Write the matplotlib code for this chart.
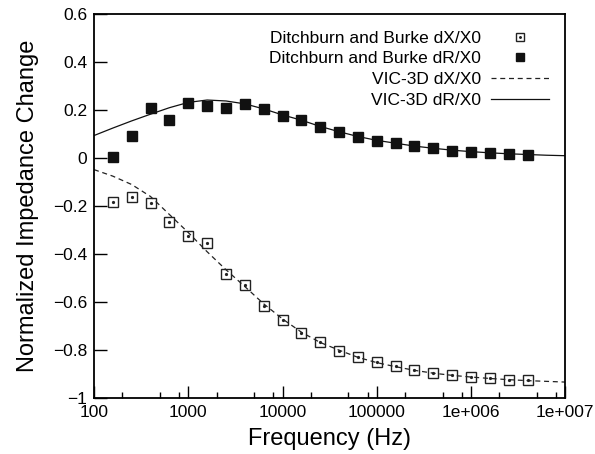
import matplotlib
matplotlib.use("Agg")
import matplotlib.pyplot as plt
from matplotlib.ticker import FixedLocator, FuncFormatter, LogLocator, NullFormatter
from matplotlib.legend_handler import HandlerTuple

plt.rcParams["font.family"] = ["Liberation Sans", "DejaVu Sans"]

# measured points (Ditchburn and Burke), f = 10^2.2 ... 10^6.6
meas_freq = [158, 251, 398, 631, 1000, 1585, 2512, 3981, 6310, 10000,
             15849, 25119, 39811, 63096, 100000, 158489, 251189, 398107,
             630957, 1000000, 1584893, 2511886, 3981072]
meas_dX = [-0.184, -0.163, -0.187, -0.267, -0.323, -0.353, -0.483, -0.528,
           -0.617, -0.674, -0.728, -0.767, -0.802, -0.830, -0.851, -0.868,
           -0.883, -0.895, -0.903, -0.910, -0.917, -0.923, -0.926]
meas_dR = [0.003, 0.094, 0.207, 0.159, 0.230, 0.216, 0.207, 0.224, 0.203,
           0.177, 0.160, 0.131, 0.110, 0.090, 0.073, 0.062, 0.050, 0.041,
           0.031, 0.027, 0.020, 0.018, 0.015]

# VIC-3D simulation, f = 10^2.0 ... 10^7.0
sim_freq = [100, 158, 251, 398, 631, 1000, 1585, 2512, 3981, 6310, 10000,
            15849, 25119, 39811, 63096, 100000, 158489, 251189, 398107,
            630957, 1000000, 1584893, 2511886, 3981072, 6309573, 10000000]
sim_dX = [-0.048, -0.075, -0.110, -0.160, -0.235, -0.310, -0.390, -0.465,
          -0.535, -0.607, -0.670, -0.725, -0.768, -0.800, -0.830, -0.852,
          -0.869, -0.884, -0.896, -0.905, -0.912, -0.918, -0.923, -0.927,
          -0.930, -0.933]
sim_dR = [0.094, 0.125, 0.155, 0.183, 0.210, 0.232, 0.242, 0.238, 0.226,
          0.205, 0.180, 0.158, 0.132, 0.110, 0.090, 0.074, 0.062, 0.050,
          0.041, 0.033, 0.027, 0.022, 0.018, 0.015, 0.012, 0.010]

x_ticks = [100, 1000, 10000, 100000, 1000000, 10000000]
x_labels = ["100", "1000", "10000", "100000", "1e+006", "1e+007"]
y_ticks = [-1, -0.8, -0.6, -0.4, -0.2, 0, 0.2, 0.4, 0.6]

fig = plt.figure(figsize=(5.95, 4.54), dpi=100)
ax = fig.add_axes([0.158, 0.123, 0.792, 0.846])

sq, = ax.plot(meas_freq, meas_dX, "s", ms=6.5, mfc="none", mec="#222222",
              mew=1.0, zorder=3)
dot, = ax.plot(meas_freq, meas_dX, "o", ms=1.3, color="#222222", zorder=3)
filled, = ax.plot(meas_freq, meas_dR, "s", ms=7, color="#111111", zorder=3)
dashed, = ax.plot(sim_freq, sim_dX, color="#222222", lw=0.9, dashes=(4, 3))
solid, = ax.plot(sim_freq, sim_dR, color="#111111", lw=0.9)

ax.set_xscale("log")
ax.set_xlim(100, 1e7)
ax.set_ylim(-1, 0.6)

ax.xaxis.set_major_locator(FixedLocator(x_ticks))
ax.xaxis.set_major_formatter(FuncFormatter(lambda v, p: x_labels[x_ticks.index(round(v))] if round(v) in x_ticks else ""))
ax.xaxis.set_minor_locator(LogLocator(base=10, subs=(2, 5, 8)))
ax.xaxis.set_minor_formatter(NullFormatter())
ax.yaxis.set_major_locator(FixedLocator(y_ticks))
ax.yaxis.set_major_formatter(FuncFormatter(lambda v, p: ("%g" % round(v, 2)).replace("-", "\u2212")))

ax.tick_params(which="major", direction="in", length=9, width=1.0,
               labelsize=12.5, top=False, right=False)
ax.tick_params(axis="x", which="major", pad=5)
ax.tick_params(axis="y", which="major", pad=5)
ax.tick_params(which="minor", direction="in", length=4.5, width=1.0,
               top=False, right=False)
for s in ax.spines.values():
    s.set_linewidth(1.3)

ax.set_xlabel("Frequency (Hz)", fontsize=17, labelpad=6)
ax.set_ylabel("Normalized Impedance Change", fontsize=17, labelpad=10)

ax.legend([(sq, dot), filled, dashed, solid],
          ["Ditchburn and Burke dX/X0", "Ditchburn and Burke dR/X0",
           "VIC-3D dX/X0", "VIC-3D dR/X0"],
          handler_map={tuple: HandlerTuple(ndivide=1)},
          loc="upper right", markerfirst=False, frameon=False,
          fontsize=12.5, handlelength=3.3, handletextpad=0.6,
          labelspacing=0.32, borderaxespad=0.55, borderpad=0.4,
          markerscale=0.85)

fig.savefig("out.png", dpi=100)
